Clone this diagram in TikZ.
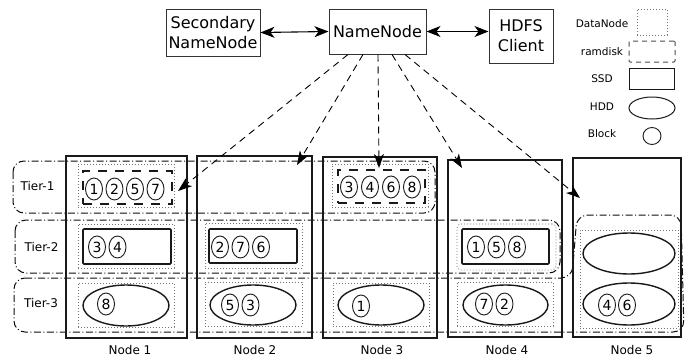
\documentclass[tikz,border=0pt]{standalone}
\usepackage{fontspec}
\setmainfont{DejaVu Sans}
\usetikzlibrary{shapes.geometric,arrows.meta,calc}
\begin{document}
\begin{tikzpicture}[x=1pt,y=-1pt,
  box/.style={draw=black!80, line width=1pt, inner sep=1pt, align=center, font=\fontsize{16}{20}\selectfont},
  dnode/.style={draw=black!90, line width=1.2pt, inner sep=0pt},
  dn/.style={draw=black!55, line width=0.8pt, dash pattern=on 0.9pt off 2.1pt, inner sep=0pt},
  ram/.style={draw=black!90, line width=1.3pt, dash pattern=on 9pt off 8pt, inner sep=0pt},
  ssd/.style={draw=black!90, line width=1.6pt, rounded corners=1pt, inner sep=0pt},
  hdd/.style={ellipse, draw=black!90, line width=1.4pt, inner sep=0pt},
  blk/.style={ellipse, draw=black!90, line width=0.9pt, inner sep=0pt, minimum width=17pt, minimum height=22pt, font=\fontsize{14}{15}\selectfont},
  tier/.style={draw=black!95, line width=1pt, dash pattern=on 7pt off 2.5pt on 1pt off 2.5pt, rounded corners=11pt},
  lbl/.style={font=\fontsize{12}{14}\selectfont, inner sep=0pt},
  lgl/.style={font=\fontsize{10.5}{12}\selectfont, inner sep=0pt},
  dbl/.style={{Stealth[length=14pt,width=11pt,inset=4pt]}-{Stealth[length=14pt,width=11pt,inset=4pt]}, line width=1.1pt},
  req/.style={-{Stealth[length=14pt,width=10pt,inset=4pt]}, line width=0.9pt, dash pattern=on 7pt off 5pt},
]
\useasboundingbox (0,0) rectangle (689,356);

% tiers
\draw[tier] (13,161) rectangle (435,213);
\draw[tier] (15,220) rectangle (560,273);
\draw[tier] (14,278) -- (572,278) -- (577,215) -- (681,215) -- (684,332) -- (14,332) -- cycle;
\node[lbl] (t1) at (37.5,186) {Tier-1};
\node[lbl] (t2) at (41.5,247) {Tier-2};
\node[lbl] (t3) at (41,303) {Tier-3};

% top boxes
\node[box, minimum width=94pt, minimum height=47pt] (snn) at (213,32.5) {Secondary\\NameNode};
\node[box, minimum width=97pt, minimum height=45pt] (nn) at (377.5,31.5) {NameNode};
\node[box, minimum width=64pt, minimum height=54pt] (hdfs) at (521,36) {HDFS\\Client};
\draw[dbl] (snn.east) -- (nn.west);
\draw[dbl] (nn.east) -- (hdfs.west |- nn.east);

% data nodes
\node[dnode, minimum width=121pt, minimum height=182pt] (n1) at (126.5,247) {};
\node[dnode, minimum width=115pt, minimum height=182pt] (n2) at (254.5,247) {};
\node[dnode, minimum width=114pt, minimum height=181pt] (n3) at (380,247.5) {};
\node[dnode, minimum width=114pt, minimum height=177pt] (n4) at (505,248.5) {};
\node[dnode, minimum width=108pt, minimum height=179pt] (n5) at (627,247.5) {};
\node[lbl, anchor=base] (l1) at (130,354) {Node 1};
\node[lbl, anchor=base] (l2) at (255,354) {Node 2};
\node[lbl, anchor=base] (l3) at (382,354) {Node 3};
\node[lbl, anchor=base] (l4) at (507,354) {Node 4};
\node[lbl, anchor=base] (l5) at (632,354) {Node 5};

% Node 1
\node[dn, minimum width=96pt, minimum height=43pt] (dn1a) at (126,185.5) {};
\node[ram, minimum width=89pt, minimum height=33pt] (ram1) at (127.5,187.5) {};
\node[blk] (b1a) at (94,189) {1};
\node[blk] (b1b) at (114.5,189) {2};
\node[blk] (b1c) at (135,189) {5};
\node[blk] (b1d) at (155.5,189) {7};
\node[dn, minimum width=96pt, minimum height=44pt] (dn1b) at (126,246) {};
\node[ssd, minimum width=88pt, minimum height=35pt] (ssd1) at (127,246.5) {};
\node[blk] (b1e) at (97,247) {3};
\node[blk] (b1f) at (117.5,247) {4};
\node[dn, minimum width=96pt, minimum height=44pt] (dn1c) at (126,305) {};
\node[hdd, minimum width=86pt, minimum height=41pt] (hdd1) at (126,305.5) {};
\node[blk] (b1g) at (106,304) {8};

% Node 2
\node[dn, minimum width=97pt, minimum height=45pt] (dn2b) at (253.5,245.5) {};
\node[ssd, minimum width=88pt, minimum height=34pt] (ssd2) at (253,246) {};
\node[blk] (b2a) at (220,247) {2};
\node[blk] (b2b) at (240.5,247) {7};
\node[blk] (b2c) at (261,247) {6};
\node[dn, minimum width=97pt, minimum height=44pt] (dn2c) at (253.5,304) {};
\node[hdd, minimum width=86pt, minimum height=40pt] (hdd2) at (253,305) {};
\node[blk] (b2d) at (230,305) {5};
\node[blk] (b2e) at (250.5,305) {3};

% Node 3
\node[dn, minimum width=96pt, minimum height=43pt] (dn3a) at (380,185.5) {};
\node[ram, minimum width=87pt, minimum height=33pt] (ram3) at (381.5,186.5) {};
\node[blk] (b3a) at (349,187) {3};
\node[blk] (b3b) at (370,187) {4};
\node[blk] (b3c) at (391,187) {6};
\node[blk] (b3d) at (412,187) {8};
\node[dn, minimum width=96pt, minimum height=43pt] (dn3c) at (381,304.5) {};
\node[hdd, minimum width=86pt, minimum height=40pt] (hdd3) at (381,305) {};
\node[blk] (b3e) at (361,306) {1};

% Node 4
\node[dn, minimum width=99pt, minimum height=46pt, rounded corners=4pt] (dn4b) at (506.5,247) {};
\node[ssd, minimum width=87pt, minimum height=35pt] (ssd4) at (505.5,246.5) {};
\node[blk] (b4a) at (476,247) {1};
\node[blk] (b4b) at (496.5,247) {5};
\node[blk] (b4c) at (517,247) {8};
\node[dn, minimum width=96pt, minimum height=44pt] (dn4c) at (505,304) {};
\node[hdd, minimum width=85pt, minimum height=40pt] (hdd4) at (505.5,305) {};
\node[blk] (b4d) at (484,304) {7};
\node[blk] (b4e) at (504.5,304) {2};

% Node 5
\node[dn, minimum width=98pt, minimum height=98pt] (dn5) at (629,279) {};
\node[hdd, minimum width=92pt, minimum height=41pt] (hdd5a) at (629,253.5) {};
\node[hdd, minimum width=92pt, minimum height=42pt] (hdd5b) at (629,304) {};
\node[blk] (b5a) at (607,305) {4};
\node[blk] (b5b) at (627,305) {6};

% requests from NameNode
\coordinate (s1) at ([xshift=-29.5pt]nn.south);
\coordinate (s2) at ([xshift=-14.5pt]nn.south);
\coordinate (s3) at ([xshift=0.5pt]nn.south);
\coordinate (s4) at ([xshift=14.5pt]nn.south);
\coordinate (s5) at ([xshift=27.5pt]nn.south);
\coordinate (e1) at (178,191);
\coordinate (e2) at (297,165);
\coordinate (e3) at (379,168);
\coordinate (e4) at (462,168);
\coordinate (e5) at (580,198);
\draw[req] (s1) -- (e1);
\draw[req] (s2) -- (e2);
\draw[req] (s3) -- (e3);
\draw[req] (s4) -- (e4);
\draw[req] (s5) -- (e5);

% legend
\node[lgl] (lg1) at (602,24) {DataNode};
\node[dn, minimum width=30pt, minimum height=26pt] (lgdn) at (652,22) {};
\node[lgl] (lg2) at (602,52) {ramdisk};
\node[draw=black!70, line width=1pt, dash pattern=on 5pt off 4pt, inner sep=0pt, rounded corners=1pt, minimum width=46pt, minimum height=21pt] (lgram) at (652,51.5) {};
\node[lgl] (lg3) at (602,79) {SSD};
\node[draw=black!90, line width=1pt, inner sep=0pt, minimum width=45pt, minimum height=21pt] (lgssd) at (651.5,78.5) {};
\node[lgl] (lg4) at (602,107) {HDD};
\node[ellipse, draw=black!90, line width=1pt, inner sep=0pt, minimum width=46pt, minimum height=22pt] (lghdd) at (652,108) {};
\node[lgl] (lg5) at (602,134) {Block};
\node[ellipse, draw=black!90, line width=0.9pt, inner sep=0pt, minimum width=18pt, minimum height=17pt] (lgblk) at (652,136) {};
\end{tikzpicture}
\end{document}
